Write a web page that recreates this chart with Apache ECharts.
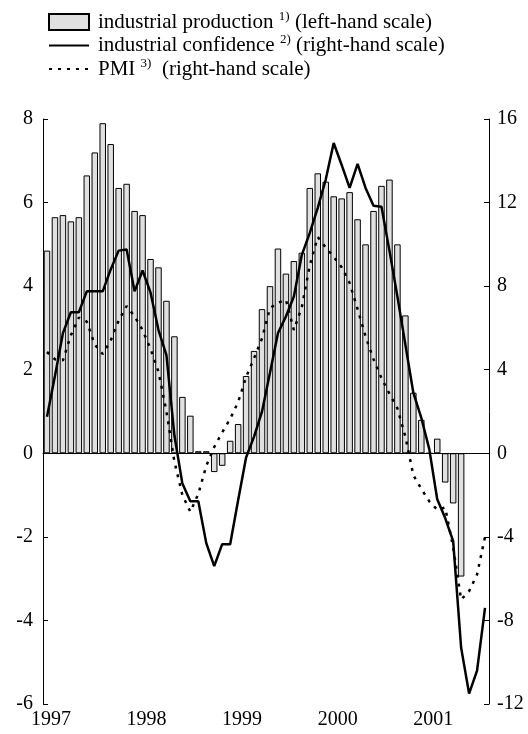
<!DOCTYPE html>
<html>
<head>
<meta charset="utf-8">
<script src="https://cdn.jsdelivr.net/npm/echarts@6/dist/echarts.min.js"></script>
<style>
  html, body { margin: 0; padding: 0; background: #fff; }
  #chart { width: 528px; height: 734px; }
</style>
</head>
<body>
<div id="chart"></div>
<script>
// monthly, June 1997 - January 2002
const months = [
    '1997-06', '1997-07', '1997-08', '1997-09', '1997-10', '1997-11', '1997-12',
    '1998-01', '1998-02', '1998-03', '1998-04', '1998-05', '1998-06', '1998-07', '1998-08', '1998-09', '1998-10', '1998-11', '1998-12',
    '1999-01', '1999-02', '1999-03', '1999-04', '1999-05', '1999-06', '1999-07', '1999-08', '1999-09', '1999-10', '1999-11', '1999-12',
    '2000-01', '2000-02', '2000-03', '2000-04', '2000-05', '2000-06', '2000-07', '2000-08', '2000-09', '2000-10', '2000-11', '2000-12',
    '2001-01', '2001-02', '2001-03', '2001-04', '2001-05', '2001-06', '2001-07', '2001-08', '2001-09', '2001-10', '2001-11', '2001-12',
    '2002-01'
];

// industrial production (left-hand scale)
const production = [
    4.85, 5.65, 5.7, 5.55, 5.65, 6.65, 7.2, 7.9, 7.4, 6.35,
    6.45, 5.8, 5.7, 4.65, 4.45, 3.65, 2.8, 1.35, 0.9, 0.05,
    0.05, -0.45, -0.3, 0.3, 0.7, 1.85, 2.45, 3.45, 4.0, 4.9,
    4.3, 4.6, 4.8, 6.35, 6.7, 6.5, 6.15, 6.1, 6.25, 5.6,
    5.0, 5.8, 6.4, 6.55, 5.0, 3.3, 1.45, 0.8, 0.0, 0.35,
    -0.7, -1.2, -2.95, null, null, null
];

// industrial confidence (right-hand scale)
const confidence = [
    1.75, 3.7, 5.75, 6.75, 6.75, 7.75, 7.75, 7.75, 8.8, 9.7,
    9.75, 7.75, 8.75, 7.7, 5.9, 4.7, 0.85, -1.45, -2.3, -2.3,
    -4.3, -5.4, -4.35, -4.35, -2.25, -0.2, 0.8, 2.0, 3.85, 5.75,
    6.55, 7.5, 9.5, 10.55, 11.75, 13.1, 14.85, 13.8, 12.7, 13.85,
    12.7, 11.85, 11.8, 9.7, 7.5, 5.2, 2.9, 1.7, 0.2, -2.2,
    -3.1, -4.2, -9.3, -11.5, -10.4, -7.4
];

// PMI (right-hand scale)
const pmi = [
    4.85, 4.5, 4.45, 5.65, 6.5, 6.3, 5.2, 4.75, 5.4, 6.35,
    7.05, 6.55, 5.9, 5.0, 3.9, 2.0, -0.4, -2.0, -2.8, -1.95,
    -0.6, 0.3, 1.0, 1.65, 2.45, 3.65, 4.55, 5.5, 6.95, 7.2,
    7.35, 5.9, 7.0, 9.0, 10.35, 9.85, 9.4, 8.9, 8.15, 6.9,
    5.6, 4.5, 3.6, 2.85, 2.15, 0.8, -1.05, -1.7, -2.3, -2.7,
    -2.6, -4.5, -7.0, -6.6, -5.8, -4.0
];

const legendText = {
    'industrial production': '{t|industrial production }{s|1)}{t| (left-hand scale)}',
    'industrial confidence': '{t|industrial confidence }{s|2)}{t| (right-hand scale)}',
    'PMI': '{t|PMI }{s|3)}{t|  (right-hand scale)}'
};

const font = 'Liberation Serif';
const month = v => v.slice(5);

const chart = echarts.init(document.getElementById('chart'));
chart.setOption({
    animation: false,
    textStyle: { fontFamily: font, color: '#000' },
    grid: { left: 43, right: 39, top: 119, bottom: 30 },
    legend: {
        orient: 'vertical',
        left: 43,
        top: 5,
        itemWidth: 40,
        itemHeight: 16,
        itemGap: 1,
        data: [
            { name: 'industrial production', icon: 'rect' },
            { name: 'industrial confidence', itemStyle: { opacity: 0 } },
            { name: 'PMI', itemStyle: { opacity: 0 } }
        ],
        formatter: name => legendText[name],
        textStyle: {
            padding: [0, 0, 0, 4],
            rich: {
                t: { fontFamily: font, fontSize: 21, lineHeight: 24, color: '#000' },
                s: { fontFamily: font, fontSize: 13, lineHeight: 14, verticalAlign: 'top', color: '#000' }
            }
        }
    },
    xAxis: [{
        type: 'category',
        data: months,
        position: 'bottom',
        axisLine: { lineStyle: { color: '#000', width: 1 } },
        axisTick: {
            inside: true,
            length: 5,
            interval: (i, v) => ['01', '04', '07', '10'].includes(month(v)),
            lineStyle: { color: '#000' }
        },
        axisLabel: {
            interval: (i, v) => month(v) === '07',
            formatter: v => v.slice(0, 4),
            fontFamily: font,
            fontSize: 20,
            color: '#000',
            margin: 6,
            padding: [0, 8, 0, 0]
        }
    }, {
        type: 'category',
        data: months,
        position: 'bottom',
        axisLine: { show: false },
        axisTick: {
            inside: true,
            length: 9,
            interval: (i, v) => month(v) === '01',
            lineStyle: { color: '#000' }
        },
        axisLabel: { show: false }
    }],
    yAxis: [{
        type: 'value',
        min: -6,
        max: 8,
        interval: 2,
        axisLine: { show: true, lineStyle: { color: '#000' } },
        axisTick: { show: true, inside: true, length: 5, lineStyle: { color: '#000' } },
        axisLabel: { fontFamily: font, fontSize: 20, color: '#000', margin: 10 },
        splitLine: { show: false }
    }, {
        type: 'value',
        min: -12,
        max: 16,
        interval: 4,
        position: 'right',
        axisLine: { show: true, lineStyle: { color: '#000' } },
        axisTick: { show: true, inside: true, length: 5, lineStyle: { color: '#000' } },
        axisLabel: { fontFamily: font, fontSize: 20, color: '#000', margin: 8 },
        splitLine: { show: false }
    }],
    series: [{
        name: 'industrial production',
        type: 'bar',
        xAxisIndex: 0,
        yAxisIndex: 0,
        data: production,
        barWidth: 6.5,
        itemStyle: { color: '#e0e0e0', borderColor: '#000', borderWidth: 1 },
        markLine: {
            silent: true,
            symbol: 'none',
            label: { show: false },
            lineStyle: { color: '#000', width: 1, type: 'solid' },
            data: [{ yAxis: 0 }]
        }
    }, {
        name: 'industrial confidence',
        type: 'line',
        xAxisIndex: 0,
        yAxisIndex: 1,
        data: confidence,
        symbol: 'none',
        lineStyle: { color: '#000', width: 2.5 },
        itemStyle: { color: '#000' }
    }, {
        name: 'PMI',
        type: 'line',
        xAxisIndex: 0,
        yAxisIndex: 1,
        data: pmi,
        symbol: 'none',
        lineStyle: { color: '#000', width: 2.5, type: [3, 6] },
        itemStyle: { color: '#000' }
    }]
});
</script>
</body>
</html>
